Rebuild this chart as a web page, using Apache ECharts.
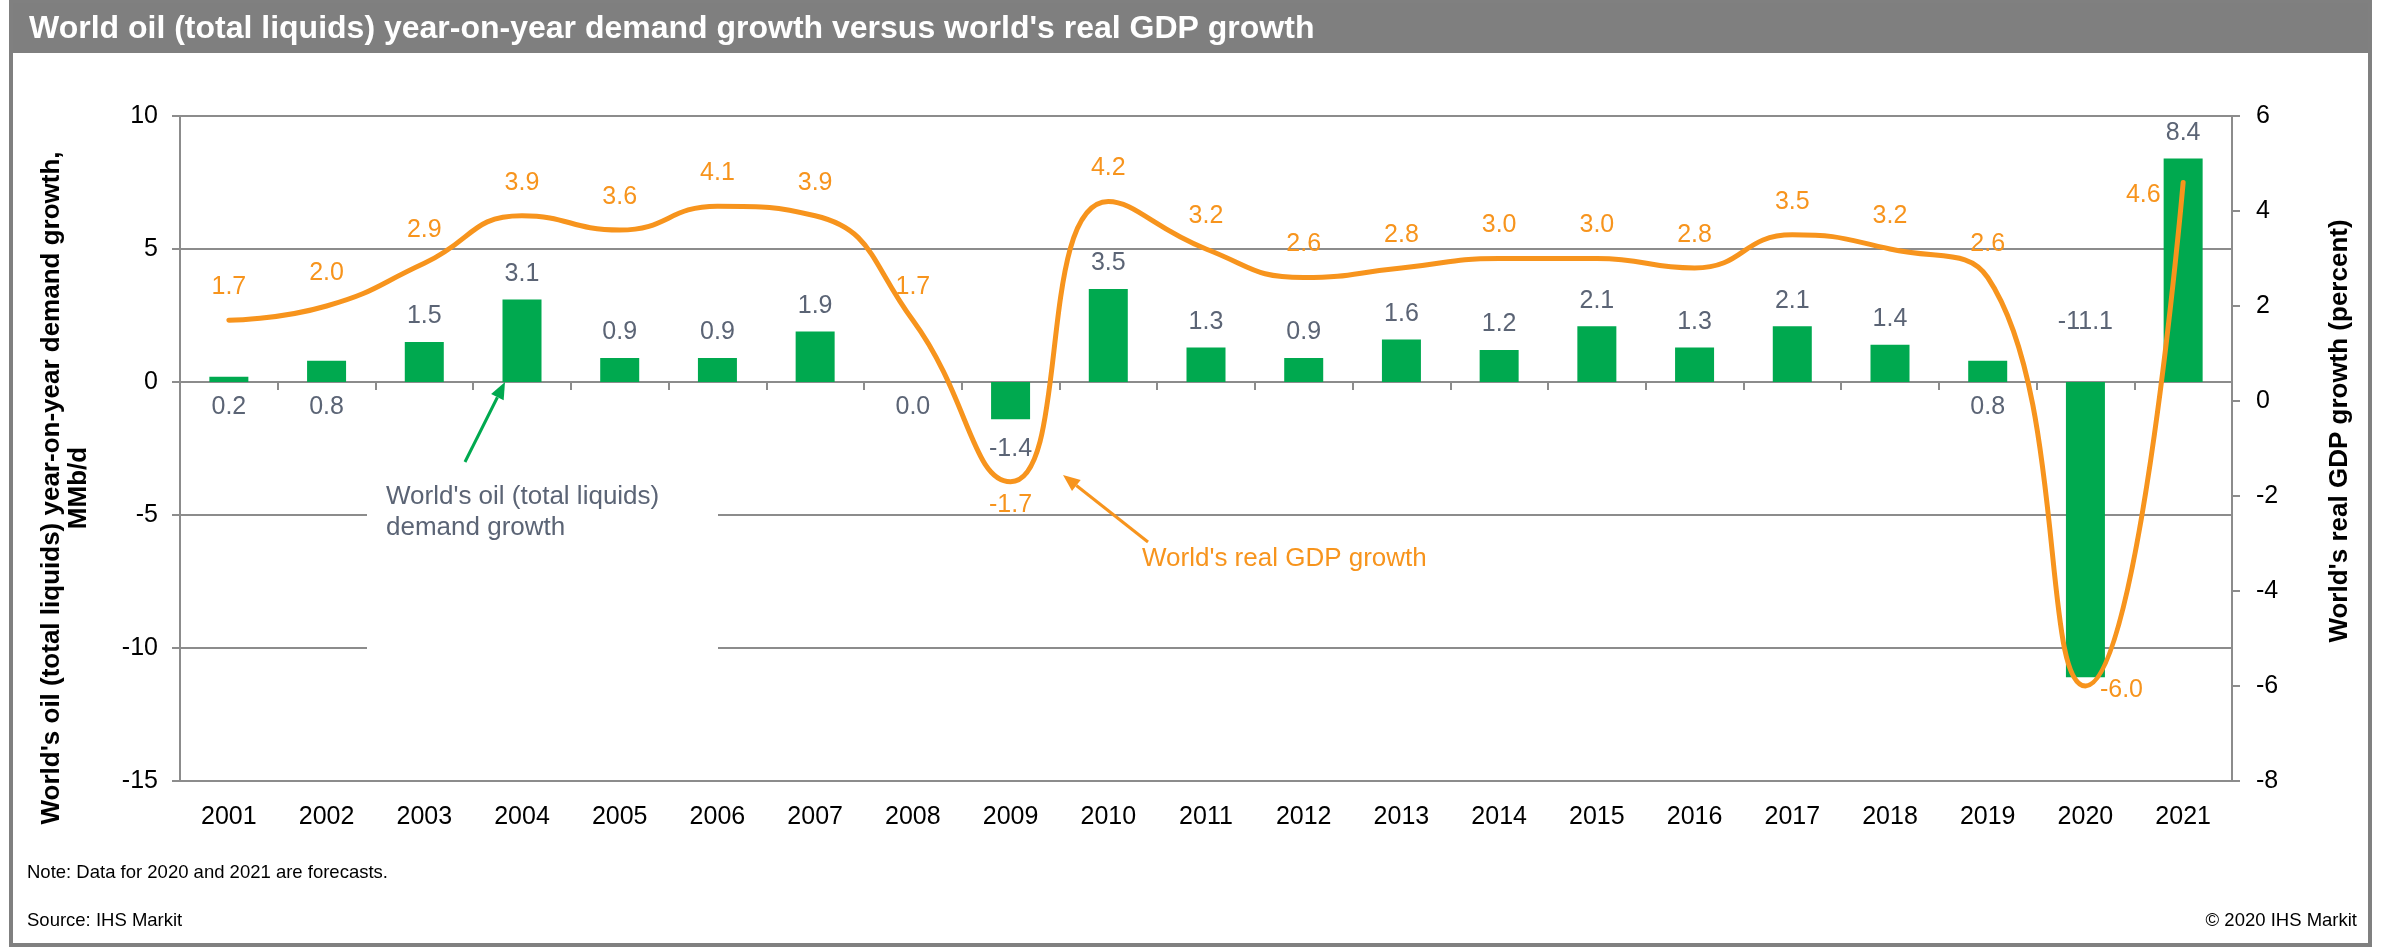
<!DOCTYPE html>
<html>
<head>
<meta charset="utf-8">
<script src="https://cdn.jsdelivr.net/npm/echarts@6/dist/echarts.min.js"></script>
<style>
html, body { margin: 0; padding: 0; background: #fff; }
#main { width: 2381px; height: 951px; }
</style>
</head>
<body>
<div id="main"></div>
<script>
// chart data
const years = ['2001', '2002', '2003', '2004', '2005', '2006', '2007', '2008', '2009', '2010', '2011',
	'2012', '2013', '2014', '2015', '2016', '2017', '2018', '2019', '2020', '2021'];
const oilDemandGrowth = [0.2, 0.8, 1.5, 3.1, 0.9, 0.9, 1.9, 0.0, -1.4, 3.5, 1.3,
	0.9, 1.6, 1.2, 2.1, 1.3, 2.1, 1.4, 0.8, -11.1, 8.4];
const gdpGrowth = [1.7, 2.0, 2.9, 3.9, 3.6, 4.1, 3.9, 1.7, -1.7, 4.2, 3.2,
	2.6, 2.8, 3.0, 3.0, 2.8, 3.5, 3.2, 2.6, -6.0, 4.6];

// labels that were moved by hand in the original
const barLabelMoves = {
	'2001': { position: 'bottom', distance: 13 },
	'2002': { position: 'bottom', distance: 13 },
	'2008': { position: 'bottom', distance: 13 },
	'2009': { position: 'bottom', distance: 17 },
	'2019': { position: 'bottom', distance: 13 },
	'2020': { position: 'top', distance: 47 }
};
const lineLabelMoves = {
	'2009': { position: 'bottom', distance: 10 },
	'2020': { position: 'right', distance: 14, offset: [0, 4] },
	'2021': { position: 'left', distance: 22, offset: [0, 13] }
};

const FONT = '"Liberation Sans", Arial, Helvetica, sans-serif';
const GRID_GRAY = '#8c8c8c';
const BAR_GREEN = '#00a94f';
const LINE_ORANGE = '#f7941d';
const LABEL_GRAY = '#5b6475';

let chart = echarts.init(document.getElementById('main'), null, { renderer: 'canvas' });

function fmt1(p) {
	return Number(p.value).toFixed(1);
}

// arrow made of a line and a filled head
function arrow(x1, y1, x2, y2, color) {
	let ang = Math.atan2(y2 - y1, x2 - x1);
	let len = 17, half = 7;
	let bx = x2 - len * Math.cos(ang), by = y2 - len * Math.sin(ang);
	let nx = -Math.sin(ang), ny = Math.cos(ang);
	return [{
		type: 'line', z: 20, silent: true,
		shape: { x1: x1, y1: y1, x2: bx, y2: by },
		style: { stroke: color, lineWidth: 3 }
	}, {
		type: 'polygon', z: 20, silent: true,
		shape: { points: [[x2, y2], [bx + nx * half, by + ny * half], [bx - nx * half, by - ny * half]] },
		style: { fill: color }
	}];
}

let barData = oilDemandGrowth.map((v, i) => {
	let mv = barLabelMoves[years[i]];
	return mv ? { value: v, label: mv } : v;
});
let lineData = gdpGrowth.map((v, i) => {
	let mv = lineLabelMoves[years[i]];
	return mv ? { value: v, label: mv } : v;
});

let option = {
	animation: false,
	backgroundColor: '#ffffff',
	textStyle: { fontFamily: FONT },
	grid: [
		{ left: 180, right: 149, top: 116, bottom: 170 },
		{ left: 180, right: 149, top: 116, bottom: 170 }
	],
	xAxis: [{
		gridIndex: 0,
		type: 'category',
		data: years,
		axisLine: { onZero: true, lineStyle: { color: GRID_GRAY, width: 2 } },
		axisTick: { show: true, length: 8, lineStyle: { color: GRID_GRAY, width: 2 } },
		axisLabel: { show: false }
	}, {
		gridIndex: 1,
		type: 'category',
		data: years,
		axisLine: { show: false },
		axisTick: { show: false },
		axisLabel: { fontSize: 25, color: '#000', margin: 24, fontFamily: FONT }
	}],
	yAxis: [{
		gridIndex: 0,
		type: 'value',
		min: -15, max: 10, interval: 5,
		axisLine: { show: true, lineStyle: { color: GRID_GRAY, width: 2 } },
		axisTick: { show: true, length: 8, lineStyle: { color: GRID_GRAY, width: 2 } },
		splitLine: { show: true, lineStyle: { color: GRID_GRAY, width: 2 } },
		axisLabel: { fontSize: 25, color: '#000', margin: 22, fontFamily: FONT }
	}, {
		gridIndex: 0,
		type: 'value',
		position: 'right',
		min: -8, max: 6, interval: 2,
		axisLine: { show: true, lineStyle: { color: GRID_GRAY, width: 2 } },
		axisTick: { show: true, length: 8, lineStyle: { color: GRID_GRAY, width: 2 } },
		splitLine: { show: false },
		axisLabel: { fontSize: 25, color: '#000', margin: 24, fontFamily: FONT }
	}, {
		gridIndex: 1,
		type: 'value',
		show: false
	}],
	series: [{
		name: "World's oil (total liquids) demand growth",
		type: 'bar',
		xAxisIndex: 0,
		yAxisIndex: 0,
		barWidth: 39,
		itemStyle: { color: BAR_GREEN },
		label: {
			show: true, position: 'top', distance: 13,
			color: LABEL_GRAY, fontSize: 25, fontFamily: FONT,
			formatter: fmt1
		},
		data: barData
	}, {
		name: "World's real GDP growth",
		type: 'line',
		xAxisIndex: 0,
		yAxisIndex: 1,
		smooth: 0.5,
		symbol: 'circle',
		symbolSize: 1,
		lineStyle: { color: LINE_ORANGE, width: 5, cap: 'round' },
		itemStyle: { color: LINE_ORANGE },
		label: {
			show: true, position: 'top', distance: 20,
			color: LINE_ORANGE, fontSize: 25, fontFamily: FONT,
			formatter: fmt1
		},
		data: lineData
	}],
	graphic: [
		// frame and title bar
		{ type: 'rect', z: 0, silent: true, shape: { x: 11, y: 1, width: 2359, height: 52 }, style: { fill: '#7f7f7f' } },
		{ type: 'rect', z: 50, silent: true, shape: { x: 11, y: 1, width: 2359, height: 944 }, style: { fill: 'none', stroke: '#808080', lineWidth: 4 } },
		{ type: 'text', z: 51, silent: true, x: 29, y: 29,
			style: { text: "World oil (total liquids) year-on-year demand growth versus world's real GDP growth",
				fill: '#fff', font: 'bold 32px ' + FONT, textVerticalAlign: 'middle' } },
		// axis titles
		{ type: 'text', z: 10, silent: true, x: 65, y: 488, rotation: Math.PI / 2,
			style: { text: "World's oil (total liquids) year-on-year demand growth,\nMMb/d",
				fill: '#000', font: 'bold 26px ' + FONT, align: 'center', verticalAlign: 'middle', lineHeight: 27 } },
		{ type: 'text', z: 10, silent: true, x: 2340, y: 431, rotation: Math.PI / 2,
			style: { text: "World's real GDP growth (percent)",
				fill: '#000', font: 'bold 26px ' + FONT, align: 'center', verticalAlign: 'middle' } },
		// annotation for the bars
		{ type: 'rect', z: 1, silent: true, shape: { x: 367, y: 478, width: 351, height: 185 }, style: { fill: '#fff' } },
		{ type: 'text', z: 10, silent: true, x: 386, y: 481,
			style: { text: "World's oil (total liquids)\ndemand growth", fill: LABEL_GRAY,
				font: '26px ' + FONT, verticalAlign: 'top', lineHeight: 31 } },
		...arrow(465, 462, 505, 382, BAR_GREEN),
		// annotation for the line
		{ type: 'text', z: 10, silent: true, x: 1142, y: 559,
			style: { text: "World's real GDP growth", fill: LINE_ORANGE,
				font: '26px ' + FONT, verticalAlign: 'middle' } },
		...arrow(1148, 542, 1063, 475, LINE_ORANGE),
		// footer
		{ type: 'text', z: 10, silent: true, x: 27, y: 873,
			style: { text: 'Note: Data for 2020 and 2021 are forecasts.', fill: '#000', font: '18.5px ' + FONT, verticalAlign: 'middle' } },
		{ type: 'text', z: 10, silent: true, x: 27, y: 921,
			style: { text: 'Source: IHS Markit', fill: '#000', font: '18.5px ' + FONT, verticalAlign: 'middle' } },
		{ type: 'text', z: 10, silent: true, x: 2357, y: 921,
			style: { text: '\u00a9 2020 IHS Markit', fill: '#000', font: '18.5px ' + FONT, align: 'right', verticalAlign: 'middle' } }
	]
};

chart.setOption(option);
</script>
</body>
</html>
